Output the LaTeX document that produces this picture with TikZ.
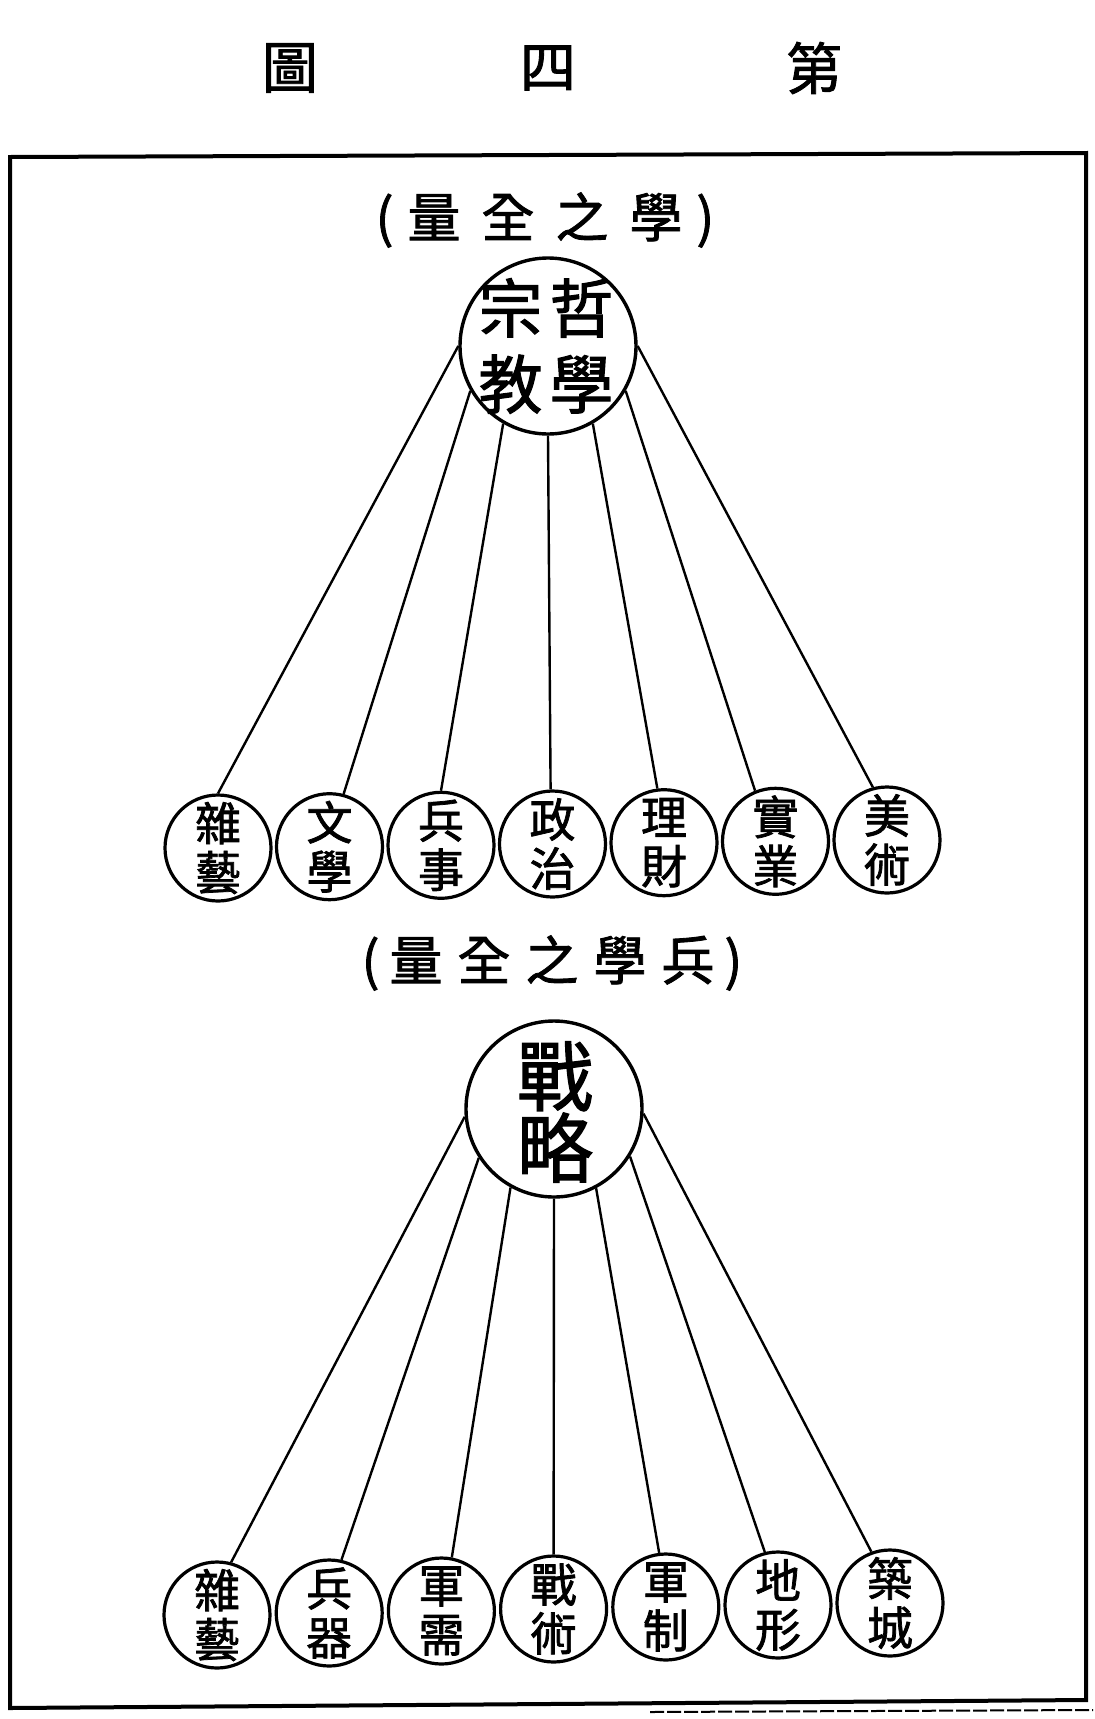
\documentclass[tikz,border=0pt]{standalone}
\usepackage{fontspec}
\setmainfont{Noto Sans CJK TC}[FakeBold=1.6]
\begin{document}
\begin{tikzpicture}[x=1pt,y=-1pt,
  leaf/.style={circle,draw,line width=3.2pt,minimum size=106pt,inner sep=0pt},
  root/.style={circle,draw,line width=3.4pt,minimum size=176pt,inner sep=0pt},
  leaftext/.style={align=center,font=\fontsize{46}{49}\selectfont,inner sep=0pt},
  roottext/.style={align=center,inner sep=0pt},
  headtext/.style={inner sep=0pt,font=\fontsize{56}{56}\selectfont},
  subtitle/.style={inner sep=0pt,font=\fontsize{53}{53}\selectfont},
  conn/.style={line width=2.4pt},
  frame/.style={line width=4pt,line join=miter},
]
\useasboundingbox (0,0) rectangle (1095,1719);

% heading
\node[headtext] (h1) at (290,68) {圖};
\node[headtext] (h2) at (548,68) {四};
\node[headtext] (h3) at (814,68) {第};

% frame
\coordinate (f1) at (10,157);
\coordinate (f2) at (1086,153);
\coordinate (f3) at (1086,1700);
\coordinate (f4) at (10,1708);
\draw[frame] (f1) -- (f2) -- (f3) -- (f4) -- cycle;
\coordinate (g1) at (650,1712);
\coordinate (g2) at (1093,1710);
\draw[line width=2pt,dash pattern=on 14pt off 3pt] (g1) -- (g2);

% first tree
\node[subtitle] (s1) at (545,220) {(\hspace{14pt}量\hspace{21pt}全\hspace{21pt}之\hspace{21pt}學\hspace{14pt})};
\node[root] (r1) at (548,346) {};
\node[roottext,font=\fontsize{64}{76}\selectfont] (r1t) at (546,346) {宗\hspace{7pt}哲\\教\hspace{7pt}學};

\node[leaf] (a1) at (218,848) {};
\node[leaf] (a2) at (329.5,846.7) {};
\node[leaf] (a3) at (441,845.3) {};
\node[leaf] (a4) at (552.5,844) {};
\node[leaf] (a5) at (664,842.7) {};
\node[leaf] (a6) at (775.5,841.3) {};
\node[leaf] (a7) at (887,840) {};
\node[leaftext] (a1t) at (a1) {雜\\藝};
\node[leaftext] (a2t) at (a2) {文\\學};
\node[leaftext] (a3t) at (a3) {兵\\事};
\node[leaftext] (a4t) at (a4) {政\\治};
\node[leaftext] (a5t) at (a5) {理\\財};
\node[leaftext] (a6t) at (a6) {實\\業};
\node[leaftext] (a7t) at (a7) {美\\術};

\draw[conn] (r1.180) -- (a1.90);
\draw[conn] (r1.210) -- (a2.75);
\draw[conn] (r1.240) -- (a3.90);
\draw[conn] (r1.270) -- (a4.92);
\draw[conn] (r1.300) -- (a5.97);
\draw[conn] (r1.330) -- (a6.112);
\draw[conn] (r1.0) -- (a7.105);

% second tree
\node[subtitle] (s2) at (552,963) {(\hspace{10pt}量\hspace{15pt}全\hspace{15pt}之\hspace{15pt}學\hspace{15pt}兵\hspace{10pt})};
\node[root] (r2) at (554,1109) {};
\node[roottext,font=\fontsize{76}{72}\selectfont] (r2t) at (555,1112) {戰\\略};

\node[leaf] (b1) at (217,1615) {};
\node[leaf] (b2) at (329.2,1613) {};
\node[leaf] (b3) at (441.4,1611) {};
\node[leaf] (b4) at (553.6,1609) {};
\node[leaf] (b5) at (665.8,1607) {};
\node[leaf] (b6) at (778,1605) {};
\node[leaf] (b7) at (890,1603) {};
\node[leaftext] (b1t) at (b1) {雜\\藝};
\node[leaftext] (b2t) at (b2) {兵\\器};
\node[leaftext] (b3t) at (b3) {軍\\需};
\node[leaftext] (b4t) at (b4) {戰\\術};
\node[leaftext] (b5t) at (b5) {軍\\制};
\node[leaftext] (b6t) at (b6) {地\\形};
\node[leaftext] (b7t) at (b7) {築\\城};

\draw[conn] (r2.185) -- (b1.75);
\draw[conn] (r2.213) -- (b2.77);
\draw[conn] (r2.241) -- (b3.79);
\draw[conn] (r2.270) -- (b4.90);
\draw[conn] (r2.298) -- (b5.97);
\draw[conn] (r2.328) -- (b6.104);
\draw[conn] (r2.357) -- (b7.110);
\end{tikzpicture}
\end{document}
